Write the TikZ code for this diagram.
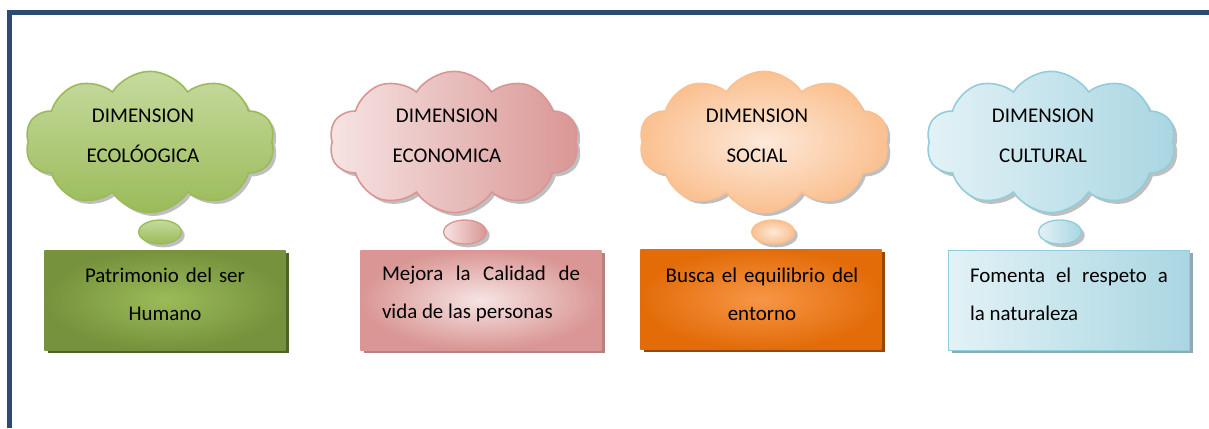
\documentclass[tikz,border=0pt]{standalone}
\usepackage{fontspec}
\setmainfont{Carlito}
\usetikzlibrary{shapes.symbols,shapes.geometric,shadows}

\definecolor{marco}{HTML}{2D4B70}
\definecolor{verdeA}{HTML}{C6DA9E}
\definecolor{verdeB}{HTML}{9BBB59}
\definecolor{verdeC}{HTML}{76923C}
\definecolor{verdeD}{HTML}{4F6228}
\definecolor{rosaA}{HTML}{F6E4E3}
\definecolor{rosaB}{HTML}{D99694}
\definecolor{rosaC}{HTML}{B7817F}
\definecolor{naranjaA}{HTML}{FDE9D9}
\definecolor{naranjaB}{HTML}{FAC090}
\definecolor{naranjaC}{HTML}{E36C09}
\definecolor{naranjaD}{HTML}{F79646}
\definecolor{naranjaE}{HTML}{974806}
\definecolor{azulA}{HTML}{E3F2F6}
\definecolor{azulB}{HTML}{A9D6E2}
\definecolor{azulC}{HTML}{92CDDC}
\definecolor{azulD}{HTML}{8FAAB3}

\begin{document}
\begin{tikzpicture}[x=0.75pt,y=-0.75pt,
        nube/.style={cloud,cloud puffs=10,cloud puff arc=115,aspect=1.77,inner sep=0pt,
            minimum width=187pt,minimum height=106pt,line width=1.2pt},
        burbuja/.style={ellipse,minimum width=32pt,minimum height=18pt,inner sep=0pt,line width=1pt},
        caja/.style={rectangle,minimum width=181pt,minimum height=75pt,inner sep=0pt},
        titulo/.style={align=center,inner sep=0pt,font=\fontsize{15.7}{30}\selectfont},
        texto/.style={text width=148.5pt,inner sep=0pt,font=\fontsize{15.7}{28.5}\selectfont},
        sombra/.style={drop shadow={shadow xshift=2.5pt,shadow yshift=-2.5pt,fill=#1,opacity=1}}]

    \useasboundingbox (0,0) rectangle (1209,428);

    % marco
    \draw[marco,line width=3.8pt] (9.5,428) -- (9.5,12.5) -- (1209,12.5);

    % ecologica
    \node[nube,draw=verdeB,top color=verdeA,bottom color=verdeB,sombra=black!25] (n1) at (150,142) {};
    \node[burbuja,draw=verdeB,top color=verdeA,bottom color=verdeB,sombra=black!25] (b1) at (160,232) {};
    \node[caja,inner color=verdeB,outer color=verdeC,sombra=verdeD] (c1) at (165,300) {};
    \node[titulo] (tn1) at (143,136) {DIMENSION\\ECOLÓOGICA};
    \node[texto,align=center] (tc1) at (165,294) {Patrimonio del ser\\Humano};

    % economica
    \node[nube,draw=rosaB,left color=rosaA,right color=rosaB,sombra=black!25] (n2) at (454,142) {};
    \node[burbuja,draw=rosaB,left color=rosaA,right color=rosaB,sombra=black!25] (b2) at (465,232) {};
    \node[caja,inner color=rosaA,outer color=rosaB,sombra=rosaC] (c2) at (481,300) {};
    \node[titulo] (tn2) at (447,136) {DIMENSION\\ECONOMICA};
    \node[texto,align=justify] (tc2) at (481,294) {Mejora la Calidad de\linebreak vida de las personas};

    % social
    \node[nube,draw=naranjaB,inner color=naranjaA,outer color=naranjaB,sombra=black!25] (n3) at (764,142) {};
    \node[burbuja,draw=naranjaB,inner color=naranjaA,outer color=naranjaB,sombra=black!25] (b3) at (773,232) {};
    \node[caja,inner color=naranjaD,outer color=naranjaC,sombra=naranjaE] (c3) at (761,299) {};
    \node[titulo] (tn3) at (757,136) {DIMENSION\\SOCIAL};
    \node[texto,align=center,text width=190pt] (tc3) at (762,294) {Busca el equilibrio del\\entorno};

    % cultural
    \node[nube,draw=azulC,left color=azulA,right color=azulB,sombra=black!25] (n4) at (1051,142) {};
    \node[burbuja,draw=azulC,left color=azulA,right color=azulB,sombra=black!25] (b4) at (1060,232) {};
    \node[caja,draw=azulC,left color=azulA,right color=azulB,sombra=azulD] (c4) at (1069,300) {};
    \node[titulo] (tn4) at (1043,136) {DIMENSION\\CULTURAL};
    \node[texto,align=justify] (tc4) at (1069,294) {Fomenta el respeto a\linebreak la naturaleza};
\end{tikzpicture}
\end{document}
